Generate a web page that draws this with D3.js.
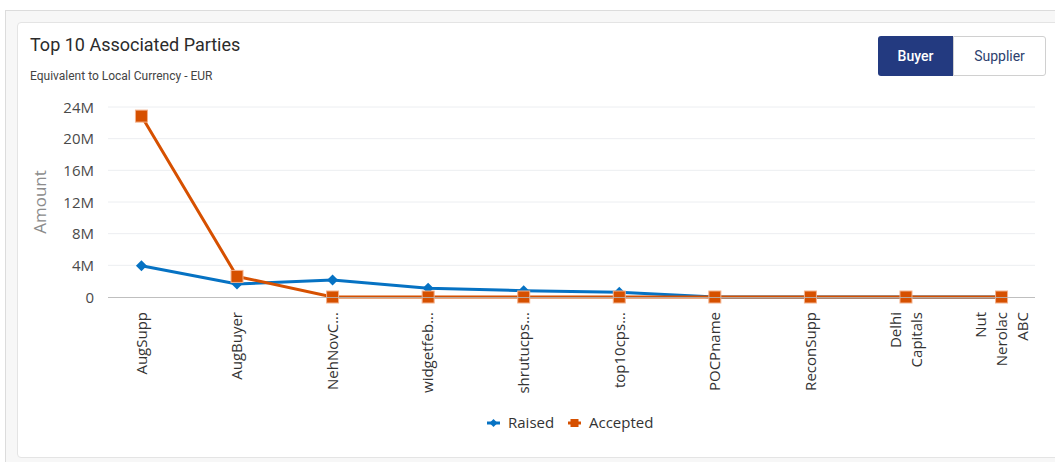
<!DOCTYPE html>
<html>
<head>
<meta charset="utf-8">
<script src="https://cdn.jsdelivr.net/npm/d3@7/dist/d3.min.js"></script>
<style>
  html, body { margin: 0; padding: 0; background: #fff; width: 1055px; height: 462px; overflow: hidden; }
  #frame { position: absolute; left: 5px; top: 10px; width: 1070px; height: 470px; border: 1px solid #dcdcdc; background: #f7f7f7; }
  #card { position: absolute; left: 17px; top: 22px; width: 1060px; height: 434px; border: 1px solid #e4e4e4; border-radius: 4px; background: #fff; }
  #title { position: absolute; left: 30px; top: 34px; font: 18px Roboto, sans-serif; color: #2b2b2b; }
  #subtitle { position: absolute; left: 30px; top: 69px; font: 12px Roboto, sans-serif; color: #444; }
  .btn { position: absolute; top: 36px; height: 40px; text-align: center; font: 500 14px Roboto, sans-serif; line-height: 40px; box-sizing: border-box; }
  #buyer { left: 878px; width: 75px; background: #233a80; color: #fff; border-radius: 3px 0 0 3px; }
  #supplier { left: 953px; width: 93px; background: #fff; color: #2d3f6e; border: 1px solid #d0d0d0; border-radius: 0 3px 3px 0; font-weight: 400; line-height: 38px; }
  svg { position: absolute; left: 0; top: 0; }
</style>
</head>
<body>
<div id="frame"></div>
<div id="card"></div>
<div id="title">Top 10 Associated Parties</div>
<div id="subtitle">Equivalent to Local Currency - EUR</div>
<div class="btn" id="buyer">Buyer</div>
<div class="btn" id="supplier">Supplier</div>
<svg id="chart" width="1055" height="462"></svg>
<script>
// ─── data ───
const categories = ['AugSupp', 'AugBuyer', 'NehNovC...', 'widgetfeb...', 'shrutucps...', 'top10cps...',
  'POCPname', 'ReconSupp', 'Delhi Capitals', 'Nut Nerolac ABC'];
const raised   = [3.95e6, 1.65e6, 2.15e6, 1.1e6, 0.8e6, 0.6e6, 0, 0, 0, 0];
const accepted = [22.85e6, 2.6e6, 0, 0, 0, 0, 0, 0, 0, 0];
const yTicks = [0, 4e6, 8e6, 12e6, 16e6, 20e6, 24e6];
// wrapped label lines
const labelLines = {
  'Delhi Capitals': ['Delhi', 'Capitals'],
  'Nut Nerolac ABC': ['Nut', 'Nerolac', 'ABC']
};

const BLUE = '#0672c3', ORANGE = '#d65000';
const FONT = '"Open Sans", sans-serif';

const svg = d3.select('#chart');
const plotL = 108, plotR = 1035, plotT = 107, plotB = 297;

const x = d3.scalePoint().domain(categories).range([plotL, plotR]).padding(0.35);
const y = d3.scaleLinear().domain([0, 24e6]).range([plotB, plotT]);

// gridlines
svg.append('g').selectAll('line')
  .data(yTicks.filter(d => d > 0))
  .enter().append('line')
  .attr('x1', plotL).attr('x2', plotR)
  .attr('y1', d => y(d)).attr('y2', d => y(d))
  .attr('stroke', '#eceef1').attr('stroke-width', 1);

// y axis labels
const yAxis = d3.axisLeft(y).tickValues(yTicks).tickSize(0).tickPadding(14)
  .tickFormat(d => d === 0 ? '0' : (d / 1e6) + 'M');
const yg = svg.append('g').attr('transform', `translate(${plotL},0)`).call(yAxis);
yg.select('.domain').remove();
yg.selectAll('text').attr('font-family', FONT).attr('font-size', 15).attr('fill', '#4a4a4a')
  .attr('dy', '0.35em');

// y axis title
svg.append('text')
  .attr('transform', `translate(46,${(plotT + plotB) / 2}) rotate(-90)`)
  .attr('text-anchor', 'middle')
  .attr('font-family', FONT).attr('font-size', 17)
  .attr('fill', '#8c8c8c')
  .text('Amount');

// x labels
const xl = svg.append('g').selectAll('text')
  .data(categories)
  .enter().append('text')
  .attr('transform', d => `translate(${x(d)},${plotB + 15}) rotate(-90)`)
  .attr('text-anchor', 'end')
  .attr('font-family', FONT).attr('font-size', 15).attr('fill', '#333');
xl.each(function(d) {
  const lines = labelLines[d] || [d];
  const t = d3.select(this);
  const off = -(lines.length - 1) / 2 * 21;
  lines.forEach((ln, i) => {
    t.append('tspan').attr('x', 0).attr('y', off + i * 21).attr('dy', '0.35em').text(ln);
  });
});

// series
const line = d3.line().x((d, i) => x(categories[i])).y(d => y(d));

function drawSeries(values, color, shape) {
  const g = svg.append('g');
  g.append('path').datum(values)
    .attr('d', line)
    .attr('fill', 'none').attr('stroke', color).attr('stroke-width', 3)
    .attr('stroke-linejoin', 'round');
  values.forEach((v, i) => {
    const cx = x(categories[i]), cy = y(v);
    if (shape === 'diamond') {
      g.append('path')
        .attr('d', `M${cx},${cy - 5.5}L${cx + 5.5},${cy}L${cx},${cy + 5.5}L${cx - 5.5},${cy}Z`)
        .attr('fill', color);
    } else {
      g.append('rect')
        .attr('x', cx - 6).attr('y', cy - 6).attr('width', 12).attr('height', 12)
        .attr('fill', color).attr('stroke', '#f3b18c').attr('stroke-width', 1);
    }
  });
}
drawSeries(raised, BLUE, 'diamond');
drawSeries(accepted, ORANGE, 'square');

// x axis line on top
svg.append('line')
  .attr('x1', plotL).attr('x2', plotR)
  .attr('y1', plotB + 0.5).attr('y2', plotB + 0.5)
  .attr('stroke', '#b5b5b5').attr('stroke-width', 1).attr('opacity', 0.85);

// legend
const legend = [
  { name: 'Raised', color: BLUE, shape: 'diamond', x: 487 },
  { name: 'Accepted', color: ORANGE, shape: 'square', x: 568 }
];
const ly = 423;
legend.forEach(l => {
  const g = svg.append('g');
  g.append('line').attr('x1', l.x).attr('x2', l.x + 13).attr('y1', ly).attr('y2', ly)
    .attr('stroke', l.color).attr('stroke-width', 3);
  const cx = l.x + 6.5;
  if (l.shape === 'diamond') {
    g.append('path').attr('d', `M${cx},${ly - 4}L${cx + 4},${ly}L${cx},${ly + 4}L${cx - 4},${ly}Z`).attr('fill', l.color);
  } else {
    g.append('rect').attr('x', cx - 4).attr('y', ly - 4).attr('width', 8).attr('height', 8).attr('fill', l.color);
  }
  g.append('text').attr('x', l.x + 21).attr('y', ly).attr('dy', '0.35em')
    .attr('font-family', FONT).attr('font-size', 15).attr('fill', '#333')
    .text(l.name);
});
</script>
</body>
</html>
